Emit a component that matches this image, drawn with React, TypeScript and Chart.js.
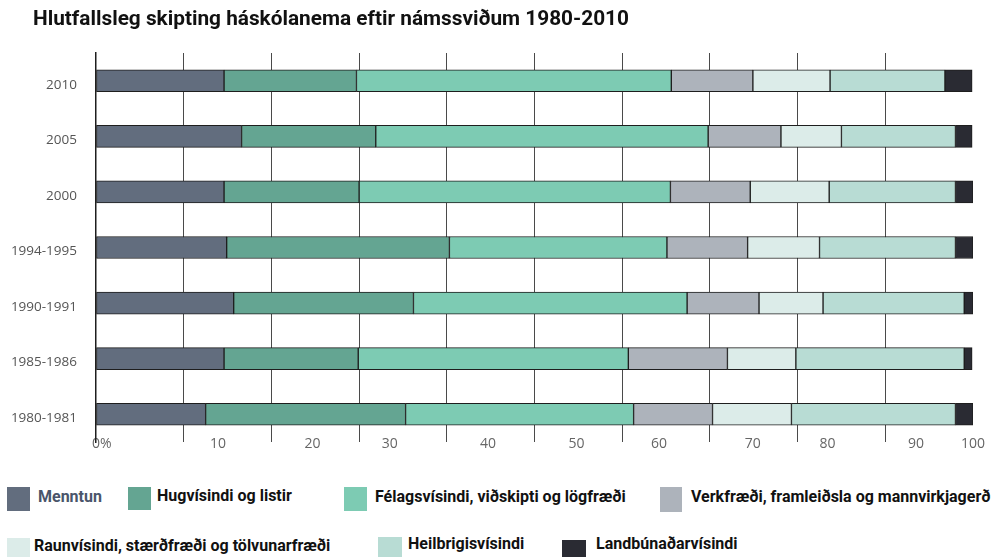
import React, { useEffect, useRef } from "react";
import { Chart, registerables } from "chart.js";

Chart.register(...registerables);

const title = "Hlutfallsleg skipting háskólanema eftir námssviðum 1980-2010";

const categories = ["2010", "2005", "2000", "1994-1995", "1990-1991", "1985-1986", "1980-1981"];

const seriesNames = [
  "Menntun",
  "Hugvísindi og listir",
  "Félagsvísindi, viðskipti og lögfræði",
  "Verkfræði, framleiðsla og mannvirkjagerð",
  "Raunvísindi, stærðfræði og tölvunarfræði",
  "Heilbrigisvísindi",
  "Landbúnaðarvísindi",
];

const menntun = [14.6, 16.6, 14.6, 14.9, 15.7, 14.6, 12.5];
const hugvisindi = [15.1, 15.3, 15.4, 25.4, 20.5, 15.3, 22.8];
const felagsvisindi = [35.9, 37.9, 35.5, 24.8, 31.2, 30.8, 26.0];
const verkfraedi = [9.3, 8.3, 9.1, 9.2, 8.2, 11.3, 9.0];
const raunvisindi = [8.8, 6.9, 9.0, 8.2, 7.3, 7.8, 9.0];
const heilbrigdi = [13.1, 13.0, 14.4, 15.5, 16.1, 19.2, 18.7];
const landbunadur = [3.1, 1.9, 2.0, 2.0, 1.0, 0.9, 2.0];

const seriesValues = [menntun, hugvisindi, felagsvisindi, verkfraedi, raunvisindi, heilbrigdi, landbunadur];

const xTickLabels = ["0%", "10", "20", "30", "40", "50", "60", "70", "80", "90", "100"];

const colors = ["#626d7e", "#64a592", "#7dcbb3", "#adb3bb", "#dcece9", "#b8dcd4", "#2a2b33"];

// where the (offset) x labels sit along the 0-100 scale
const xLabelAt = [0.65, 13.9, 24.7, 33.5, 44.7, 54.8, 64.2, 74.9, 83.4, 93.5, 100];

const legendLayout = [
  { bx: 7, by: 487, bw: 23, bh: 24, tx: 38, ty: 497, color: "#4a556a" },
  { bx: 128, by: 487, bw: 23, bh: 23, tx: 157, ty: 496, color: "#111" },
  { bx: 344, by: 487, bw: 23, bh: 24, tx: 375, ty: 497, color: "#111" },
  { bx: 660, by: 487, bw: 22, bh: 25, tx: 691, ty: 497, color: "#111" },
  { bx: 7, by: 538, bw: 23, bh: 22, tx: 34, ty: 546, color: "#111" },
  { bx: 378, by: 537, bw: 24, bh: 22, tx: 408, ty: 544, color: "#111" },
  { bx: 562, by: 540, bw: 24, bh: 20, tx: 596, ty: 544, color: "#111" },
];

export default function App() {
  const canvasRef = useRef<HTMLCanvasElement | null>(null);

  useEffect(() => {
    if (!canvasRef.current) return;
    const chart = new Chart(canvasRef.current, {
      type: "bar",
      data: {
        labels: categories,
        datasets: seriesNames.map((name, i) => ({
          label: name,
          data: seriesValues[i],
          backgroundColor: colors[i],
          borderColor: "#1e1e1e",
          borderWidth: 1,
          borderSkipped: false,
          barThickness: 22,
          xAxisID: "x",
        })),
      },
      options: {
        indexAxis: "y",
        animation: false,
        responsive: true,
        maintainAspectRatio: false,
        layout: { padding: { left: 4, right: 29, top: 53, bottom: 8 } },
        plugins: {
          legend: { display: false },
          tooltip: { enabled: false },
          title: { display: false },
        },
        scales: {
          x: {
            type: "linear",
            stacked: true,
            min: 0,
            max: 100,
            position: "bottom",
            ticks: { display: false, stepSize: 10 },
            grid: {
              drawTicks: false,
              color: (ctx: any) =>
                ctx.tick && (ctx.tick.value === 100 || ctx.tick.value === 0) ? "rgba(0,0,0,0)" : "#4a4a4a",
              lineWidth: 1,
            },
            border: { display: false },
          },
          x2: {
            type: "linear",
            min: 0,
            max: 100,
            position: "bottom",
            grid: { display: false, drawTicks: false },
            border: { display: false },
            afterBuildTicks: (axis: any) => {
              axis.ticks = xLabelAt.map((v) => ({ value: v }));
            },
            afterFit: (axis: any) => {
              axis.height = 20;
            },
            ticks: {
              autoSkip: false,
              maxRotation: 0,
              mirror: true,
              padding: -10,
              color: "#666",
              font: { family: "Open Sans", size: 14 },
              callback: (_v: any, i: number) => xTickLabels[i],
            },
          },
          y: {
            type: "category",
            stacked: true,
            grid: { display: false, drawTicks: false },
            border: { display: true, color: "#1e1e1e", width: 1.5 },
            afterFit: (axis: any) => {
              axis.width = 92;
            },
            ticks: {
              padding: 19,
              labelOffset: 4,
              color: "#555",
              font: { family: "Open Sans", size: 13.5 },
            },
          },
        },
      },
    });
    return () => chart.destroy();
  }, []);

  return (
    <div style={{ position: "absolute", left: 0, top: 0, width: 1002, height: 557, background: "#fff", overflow: "hidden" }}>
      <div style={{ position: "absolute", left: 0, top: 0, width: 1002, height: 470 }}>
        <canvas ref={canvasRef} />
      </div>
      <div
        style={{
          position: "absolute",
          left: 33,
          top: 6,
          height: 24,
          lineHeight: "24px",
          whiteSpace: "nowrap",
          fontFamily: "Roboto",
          fontWeight: 700,
          fontSize: 20.8,
          color: "#111",
        }}
      >
        {title}
      </div>
      {seriesNames.map((name, i) => {
        const l = legendLayout[i];
        return (
          <React.Fragment key={name}>
            <div style={{ position: "absolute", left: l.bx, top: l.by, width: l.bw, height: l.bh, background: colors[i] }} />
            <div
              style={{
                position: "absolute",
                left: l.tx,
                top: l.ty - 10,
                height: 20,
                lineHeight: "20px",
                whiteSpace: "nowrap",
                fontFamily: "Roboto",
                fontWeight: 700,
                fontSize: 16,
                color: l.color,
              }}
            >
              {name}
            </div>
          </React.Fragment>
        );
      })}
    </div>
  );
}
